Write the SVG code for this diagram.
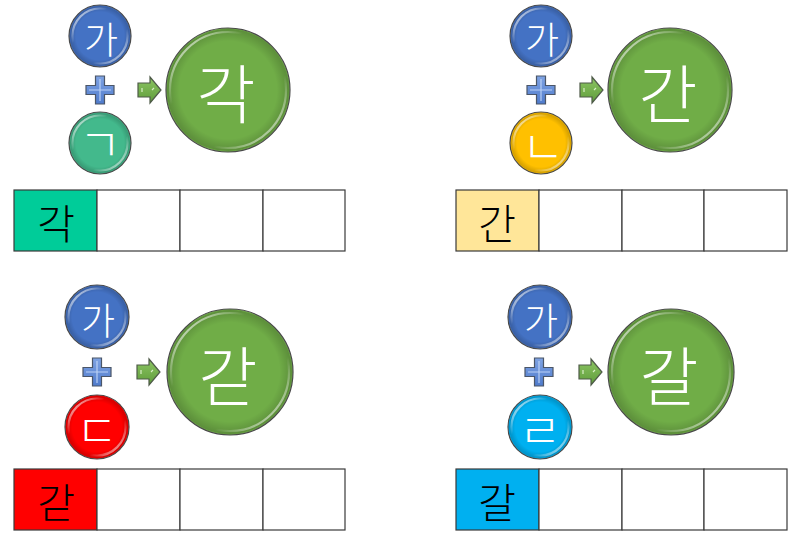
<svg xmlns="http://www.w3.org/2000/svg" xmlns:xlink="http://www.w3.org/1999/xlink" width="800" height="541" viewBox="0 0 800 541">
<style>
.ball{stroke:#4a4a4a;stroke-width:1.2}
.rim{fill:none;stroke:url(#rim);stroke-width:2.2}
.shade{fill:url(#shade)}
.t{font-family:"Noto Sans CJK KR","Noto Sans",sans-serif;font-weight:300;text-anchor:middle;dominant-baseline:central}
.ts{font-size:37px;fill:#ffffff}
.tj{font-size:46px;fill:#ffffff}
.tb{font-size:64px;fill:#ffffff}
.tc{font-size:41px;fill:#000000}
.cell{fill:#ffffff;stroke:#3a3a3a;stroke-width:1.2}
</style>
<defs>
<linearGradient id="rim" x1="0" y1="0" x2="1" y2="1">
<stop offset="0" stop-color="#ffffff" stop-opacity="1"/>
<stop offset="0.32" stop-color="#ffffff" stop-opacity="0"/>
<stop offset="0.68" stop-color="#ffffff" stop-opacity="0"/>
<stop offset="1" stop-color="#ffffff" stop-opacity="0.9"/>
</linearGradient>
<radialGradient id="shade" cx="0.5" cy="0.5" r="0.5">
<stop offset="0.8" stop-color="#000000" stop-opacity="0"/>
<stop offset="1" stop-color="#000000" stop-opacity="0.18"/>
</radialGradient>
<linearGradient id="plusg" x1="0" y1="0" x2="0" y2="1">
<stop offset="0" stop-color="#7fa3e3"/>
<stop offset="1" stop-color="#4f7bcc"/>
</linearGradient>
<linearGradient id="arrg" x1="0" y1="0" x2="0" y2="1">
<stop offset="0" stop-color="#8cc563"/>
<stop offset="1" stop-color="#5f9c3a"/>
</linearGradient>
<g id="plus">
<path d="M-4.5,-14 H4.5 V-4.5 H14 V4.5 H4.5 V14 H-4.5 V4.5 H-14 V-4.5 H-4.5 Z" fill="url(#plusg)" stroke="#4b5668" stroke-width="1.2"/>
<path d="M0,-11 V11 M-11,0 H11" stroke="#c9dcfb" stroke-width="1.2" opacity="0.85"/>
</g>
<g id="arrow">
<path d="M0,-7 H12 V-13 L23,0 L12,13 V7 H0 Z" fill="url(#arrg)" stroke="#4e5a48" stroke-width="1.2"/>
<path d="M4,-2 V2 M14,0 L16,-2" stroke="#d8efc6" stroke-width="1.2"/>
</g>
</defs>
<rect width="800" height="541" fill="#ffffff"/>

<g id="connectors">
<use xlink:href="#plus" x="100" y="90"/>
<use xlink:href="#arrow" x="138" y="90"/>
<use xlink:href="#plus" x="541" y="90"/>
<use xlink:href="#arrow" x="580" y="90"/>
<use xlink:href="#plus" x="97" y="372"/>
<use xlink:href="#arrow" x="137" y="372"/>
<use xlink:href="#plus" x="539" y="372"/>
<use xlink:href="#arrow" x="579" y="372"/>
</g>

<!-- Top-left -->
<g id="tl-ga">
<circle class="ball" cx="100" cy="36" r="31" fill="#4472c4"/>
<circle class="shade" cx="100" cy="36" r="30"/>
<circle class="rim" cx="100" cy="36" r="27.5"/>
<text class="t ts" x="101" y="38">가</text>
</g>
<g id="tl-cons">
<circle class="ball" cx="100" cy="143" r="31" fill="#43b98c"/>
<circle class="shade" cx="100" cy="143" r="30"/>
<circle class="rim" cx="100" cy="143" r="27.5"/>
<text class="t tj" x="100" y="141">ㄱ</text>
</g>
<g id="tl-result">
<circle class="ball" cx="228" cy="90" r="62" fill="#70ad47"/>
<circle class="shade" cx="228" cy="90" r="61"/>
<circle class="rim" cx="228" cy="90" r="58"/>
<text class="t tb" x="226" y="90">각</text>
</g>
<g id="tl-table">
<rect class="cell" x="14" y="190" width="83" height="61" style="fill:#00cc99"/>
<rect class="cell" x="97" y="190" width="83" height="61"/>
<rect class="cell" x="180" y="190" width="83" height="61"/>
<rect class="cell" x="263" y="190" width="82" height="61"/>
<text class="t tc" x="56" y="221">각</text>
</g>

<!-- Top-right -->
<g id="tr-ga">
<circle class="ball" cx="541" cy="36" r="31" fill="#4472c4"/>
<circle class="shade" cx="541" cy="36" r="30"/>
<circle class="rim" cx="541" cy="36" r="27.5"/>
<text class="t ts" x="542" y="38">가</text>
</g>
<g id="tr-cons">
<circle class="ball" cx="541" cy="143" r="31" fill="#ffc000"/>
<circle class="shade" cx="541" cy="143" r="30"/>
<circle class="rim" cx="541" cy="143" r="27.5"/>
<text class="t tj" x="543" y="143">ㄴ</text>
</g>
<g id="tr-result">
<circle class="ball" cx="670" cy="90" r="62" fill="#70ad47"/>
<circle class="shade" cx="670" cy="90" r="61"/>
<circle class="rim" cx="670" cy="90" r="58"/>
<text class="t tb" x="668" y="90">간</text>
</g>
<g id="tr-table">
<rect class="cell" x="456" y="190" width="83" height="61" style="fill:#ffe699"/>
<rect class="cell" x="539" y="190" width="83" height="61"/>
<rect class="cell" x="622" y="190" width="82" height="61"/>
<rect class="cell" x="704" y="190" width="83" height="61"/>
<text class="t tc" x="497" y="221">간</text>
</g>

<!-- Bottom-left -->
<g id="bl-ga">
<circle class="ball" cx="97" cy="317" r="32" fill="#4472c4"/>
<circle class="shade" cx="97" cy="317" r="31"/>
<circle class="rim" cx="97" cy="317" r="28.5"/>
<text class="t ts" x="98" y="319">가</text>
</g>
<g id="bl-cons">
<circle class="ball" cx="97" cy="427" r="32" fill="#ff0000"/>
<circle class="shade" cx="97" cy="427" r="31"/>
<circle class="rim" cx="97" cy="427" r="28.5"/>
<text class="t tj" x="97" y="427">ㄷ</text>
</g>
<g id="bl-result">
<circle class="ball" cx="230" cy="372" r="63" fill="#70ad47"/>
<circle class="shade" cx="230" cy="372" r="62"/>
<circle class="rim" cx="230" cy="372" r="59"/>
<text class="t tb" x="228" y="372">갇</text>
</g>
<g id="bl-table">
<rect class="cell" x="14" y="469" width="83" height="61" style="fill:#ff0000"/>
<rect class="cell" x="97" y="469" width="83" height="61"/>
<rect class="cell" x="180" y="469" width="83" height="61"/>
<rect class="cell" x="263" y="469" width="82" height="61"/>
<text class="t tc" x="56" y="500">갇</text>
</g>

<!-- Bottom-right -->
<g id="br-ga">
<circle class="ball" cx="540" cy="317" r="32" fill="#4472c4"/>
<circle class="shade" cx="540" cy="317" r="31"/>
<circle class="rim" cx="540" cy="317" r="28.5"/>
<text class="t ts" x="541" y="319">가</text>
</g>
<g id="br-cons">
<circle class="ball" cx="540" cy="427" r="32" fill="#00b0f0"/>
<circle class="shade" cx="540" cy="427" r="31"/>
<circle class="rim" cx="540" cy="427" r="28.5"/>
<text class="t tj" x="540" y="427">ㄹ</text>
</g>
<g id="br-result">
<circle class="ball" cx="671" cy="372" r="63" fill="#70ad47"/>
<circle class="shade" cx="671" cy="372" r="62"/>
<circle class="rim" cx="671" cy="372" r="59"/>
<text class="t tb" x="669" y="372">갈</text>
</g>
<g id="br-table">
<rect class="cell" x="456" y="469" width="83" height="61" style="fill:#00b0f0"/>
<rect class="cell" x="539" y="469" width="83" height="61"/>
<rect class="cell" x="622" y="469" width="82" height="61"/>
<rect class="cell" x="704" y="469" width="83" height="61"/>
<text class="t tc" x="497" y="500">갈</text>
</g>
</svg>
